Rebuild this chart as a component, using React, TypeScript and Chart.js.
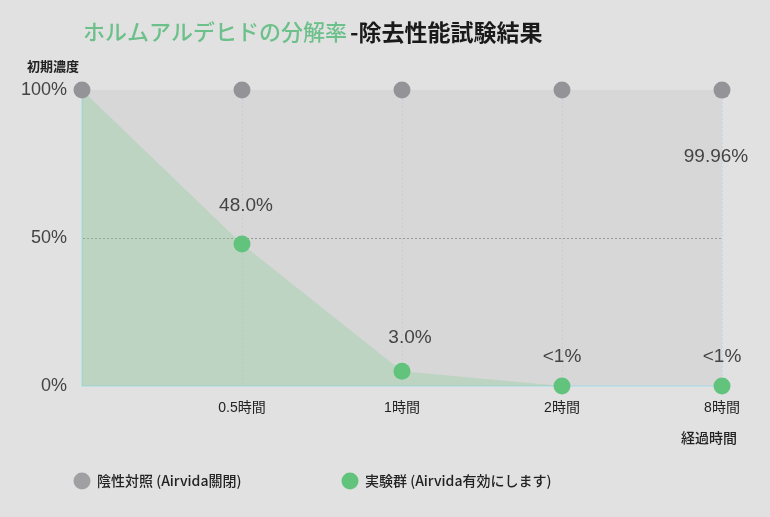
import React, { useEffect, useRef } from "react";
import { Chart, registerables } from "chart.js";

Chart.register(...registerables);

const categories = ["", "0.5時間", "1時間", "2時間", "8時間"];
const controlValues = [100, 100, 100, 100, 99.96];
const testValues = [100, 48, 5, 0, 0];
const controlLabels = ["", "", "", "", "99.96%"];
const testLabels = ["", "48.0%", "3.0%", "<1%", "<1%"];
const yTickLabels: Record<number, string> = { 0: "0%", 50: "50%", 100: "100%" };
const seriesNames = ["陰性対照 (Airvida關閉)", "実験群 (Airvida有効にします)"];
const titleGreen = "ホルムアルデヒドの分解率";
const titleBlack = "-除去性能試験結果";
const yAxisTitle = "初期濃度";
const xAxisTitle = "経過時間";

const LATIN = "'Liberation Sans', 'Noto Sans CJK JP', sans-serif";
const CJK = "'Noto Sans CJK JP', 'Liberation Sans', sans-serif";

const GREY = "#949498";
const GREEN = "#62c47c";

export default function App() {
  const ref = useRef<HTMLCanvasElement>(null);

  useEffect(() => {
    document.body.style.margin = "0";
    const canvas = ref.current!;
    const decor = {
      id: "decor",
      afterDatasetsDraw(chart: any) {
        const ctx = chart.ctx;
        ctx.save();
        ctx.font = `19px ${LATIN}`;
        ctx.fillStyle = "#444";
        ctx.textAlign = "center";
        ctx.textBaseline = "middle";
        const m0 = chart.getDatasetMeta(0);
        m0.data.forEach((pt: any, i: number) => {
          if (controlLabels[i]) ctx.fillText(controlLabels[i], pt.x - 6, pt.y + 67);
        });
        const m1 = chart.getDatasetMeta(1);
        m1.data.forEach((pt: any, i: number) => {
          if (testLabels[i]) ctx.fillText(testLabels[i], pt.x + (i === 2 ? 8 : i === 1 ? 4 : 0), pt.y - (i === 1 ? 38 : i === 2 ? 33 : 29));
        });
        ctx.restore();
      },
      afterDraw(chart: any) {
        const ctx = chart.ctx;
        ctx.save();
        ctx.textBaseline = "middle";
        ctx.textAlign = "left";
        ctx.font = `500 22px ${CJK}`;
        ctx.fillStyle = "#6cc08a";
        ctx.fillText(titleGreen, 83, 32);
        const w = ctx.measureText(titleGreen).width;
        ctx.font = `bold 23px ${CJK}`;
        ctx.fillStyle = "#1a1a1a";
        ctx.fillText(titleBlack, 83 + w + 3, 32);

        ctx.font = `bold 13px ${CJK}`;
        ctx.fillStyle = "#222";
        ctx.textAlign = "center";
        ctx.fillText(yAxisTitle, 53, 66);
        ctx.font = `500 14px ${CJK}`;
        ctx.fillText(xAxisTitle, 709, 438);

        const colors = [GREY, GREEN];
        const lx = [82, 350];
        ctx.textAlign = "left";
        ctx.font = `500 14px ${CJK}`;
        seriesNames.forEach((name, i) => {
          ctx.beginPath();
          ctx.arc(lx[i], 481, 8.5, 0, Math.PI * 2);
          ctx.fillStyle = colors[i];
          ctx.globalAlpha = i === 0 ? 0.85 : 1;
          ctx.fill();
          ctx.globalAlpha = 1;
          ctx.fillStyle = "#222";
          ctx.fillText(name, lx[i] + 15, 481);
        });
        ctx.restore();
      },
    };

    const chart = new Chart(canvas, {
      type: "line",
      data: {
        labels: categories,
        datasets: [
          {
            label: seriesNames[0],
            data: controlValues,
            order: 1,
            clip: false,
            borderWidth: 0,
            borderColor: "rgba(0,0,0,0)",
            backgroundColor: "rgba(190,190,190,0.28)",
            fill: "origin",
            pointRadius: 8.5,
            pointBackgroundColor: GREY,
            pointBorderWidth: 0,
            pointHoverRadius: 8.5,
          },
          {
            label: seriesNames[1],
            data: testValues,
            order: 0,
            clip: false,
            borderWidth: 0,
            borderColor: "rgba(0,0,0,0)",
            backgroundColor: "rgba(140,205,155,0.35)",
            fill: "origin",
            pointRadius: [0, 8.5, 8.5, 8.5, 8.5],
            pointBackgroundColor: GREEN,
            pointBorderWidth: 0,
            pointHoverRadius: 8.5,
          },
        ],
      },
      options: {
        responsive: false,
        animation: false,
        devicePixelRatio: 1,
        layout: { autoPadding: false, padding: { left: 0, right: 48, top: 90, bottom: 101 } },
        plugins: {
          legend: { display: false },
          title: { display: false },
          tooltip: { enabled: false },
          filler: { drawTime: "beforeDatasetsDraw" },
        },
        scales: {
          x: {
            offset: false,
            afterFit: (s: any) => { s.height = 30; },
            grid: {
              color: (c: any) => (c.index === 0 ? "rgba(0,0,0,0)" : "#c4d9e5"),
              lineWidth: 1,
              drawTicks: false,
            },
            border: { display: true, color: "#bfe0e8", dash: [2, 2], width: 2 },
            ticks: {
              padding: 14,
              color: "#222",
              font: { family: LATIN, size: 14 },
              maxRotation: 0,
              autoSkip: false,
            },
          },
          y: {
            min: 0,
            max: 100,
            afterFit: (s: any) => { s.width = 82; },
            grid: {
              color: (c: any) => (c.tick && c.tick.value === 50 ? "#8a8a8a" : "rgba(0,0,0,0)"),
              borderDash: [3, 3],
              lineWidth: 1,
              drawTicks: false,
            } as any,
            border: { display: true, color: "#bfe0e8", dash: [2, 2], width: 2 },
            ticks: {
              stepSize: 50,
              padding: 15,
              color: "#444",
              font: { family: LATIN, size: 18 },
              callback: (v: any) => yTickLabels[v as number] ?? "",
            },
          },
        },
      },
      plugins: [decor],
    } as any);
    return () => chart.destroy();
  }, []);

  return (
    <div style={{ position: "absolute", left: 0, top: 0, width: 770, height: 517, background: "#e1e1e1" }}>
      <canvas ref={ref} width={770} height={517} />
    </div>
  );
}
